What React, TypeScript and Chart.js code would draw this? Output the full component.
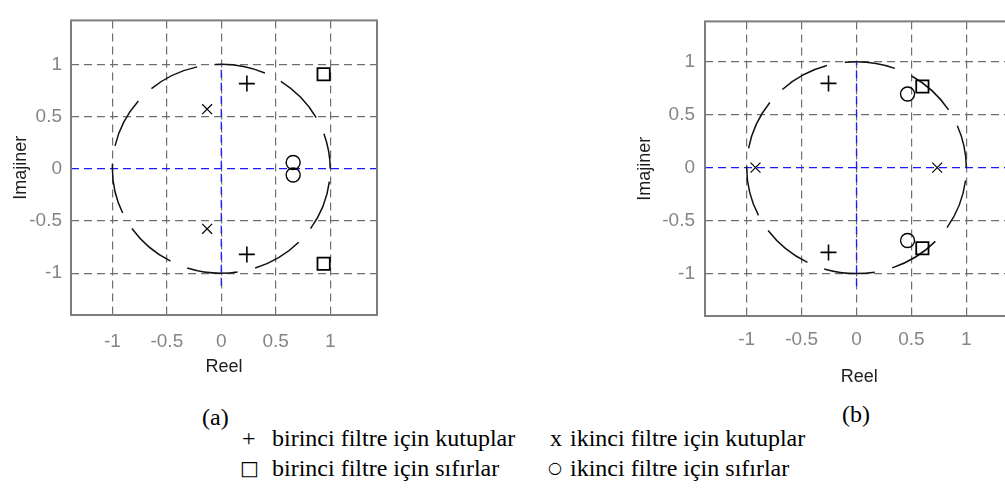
import React, { useEffect, useRef } from "react";
import { Chart, registerables } from "chart.js";
Chart.register(...registerables);

// ---- shared axis data ----
const TICKS = [-1, -0.5, 0, 0.5, 1];
const TICK_LABELS = ["-1", "-0.5", "0", "0.5", "1"];
const X_TITLE = "Reel";
const Y_TITLE = "Imajiner";
const UNIT_RADIUS = [1];
const IMAG_AXIS_SPAN = [-1.12, 1.0];

// ---- (a) ----
const A_POLE1_RE = [0.235, 0.235];
const A_POLE1_IM = [0.815, -0.82];
const A_POLE2_RE = [-0.13, -0.13];
const A_POLE2_IM = [0.57, -0.575];
const A_ZERO1_RE = [0.94, 0.94];
const A_ZERO1_IM = [0.905, -0.91];
const A_ZERO2_RE = [0.66, 0.66];
const A_ZERO2_IM = [0.06, -0.06];

// ---- (b) ----
const B_POLE1_RE = [-0.255, -0.255];
const B_POLE1_IM = [0.795, -0.8];
const B_POLE2_RE = [-0.92, 0.735];
const B_POLE2_IM = [0, 0];
const B_ZERO1_RE = [0.6, 0.6];
const B_ZERO1_IM = [0.765, -0.76];
const B_ZERO2_RE = [0.465, 0.465];
const B_ZERO2_IM = [0.695, -0.688];

const LEGEND_TEXT = [
  "birinci filtre için kutuplar",
  "ikinci filtre için kutuplar",
  "birinci filtre için sıfırlar",
  "ikinci filtre için sıfırlar",
];
const PANEL_LABELS = ["(a)", "(b)"];

const pts = (re: number[], im: number[]) => re.map((x, i) => ({ x, y: im[i] }));

const GRID_GRAY = "#6f6f6f";
const AXIS_BLUE = "#1a1aff";
const SANS = '"Liberation Sans", Arial, sans-serif';

const framePlugin = {
  id: "frameAndCircle",
  beforeDatasetsDraw(chart: any) {
    const { ctx, chartArea, scales } = chart;
    const xs = scales.x;
    const ys = scales.y;
    const cx = xs.getPixelForValue(0);
    const cy = ys.getPixelForValue(0);
    const rx = xs.getPixelForValue(UNIT_RADIUS[0]) - cx;
    const ry = cy - ys.getPixelForValue(UNIT_RADIUS[0]);
    ctx.save();
    ctx.strokeStyle = "#111";
    ctx.lineWidth = 1.5;
    ctx.setLineDash([51, 18]);
    ctx.lineDashOffset = 56;
    ctx.beginPath();
    ctx.ellipse(cx, cy, rx, ry, 0, 0, Math.PI * 2);
    ctx.stroke();
    ctx.setLineDash([]);
    ctx.strokeStyle = "#7d7d7d";
    ctx.lineWidth = 2;
    ctx.strokeRect(chartArea.left, chartArea.top, chartArea.right - chartArea.left, chartArea.bottom - chartArea.top);
    ctx.restore();
  },
};

type Cfg = {
  data: any;
  xMin: number; xMax: number; yMin: number; yMax: number;
  padTop: number; padRight: number; yAxisW: number; xAxisH: number;
  xTickPad: number; yTickPad: number; xTitlePad: number; yTitlePad: number;
};

function buildChart(canvas: HTMLCanvasElement, c: Cfg) {
  const mk = (label: string, re: number[], im: number[], style: string, r: number, w: number) => ({
    label,
    data: pts(re, im),
    pointStyle: style,
    pointRadius: r,
    pointHoverRadius: r,
    pointBorderWidth: w,
    pointBorderColor: "#000",
    pointBackgroundColor: "rgba(0,0,0,0)",
    showLine: false,
  });
  const d = c.data;
  const datasets: any[] = [
    {
      label: "imag-axis",
      data: [{ x: 0, y: IMAG_AXIS_SPAN[0] }, { x: 0, y: IMAG_AXIS_SPAN[1] }],
      showLine: true,
      borderColor: AXIS_BLUE,
      borderWidth: 1.3,
      borderDash: [8, 5],
      pointRadius: 0,
    },
    mk("p1", d.p1re, d.p1im, "cross", 8, 1.6),
    mk("p2", d.p2re, d.p2im, "crossRot", 7, 1.2),
    mk("z1", d.z1re, d.z1im, "rect", 8.7, 1.8),
    mk("z2", d.z2re, d.z2im, "circle", 7, 1.4),
  ];
  const setTicks = (s: any) => { s.ticks = TICKS.map((v) => ({ value: v })); };
  const lab = (v: any) => { const i = TICKS.indexOf(Number(v)); return i >= 0 ? TICK_LABELS[i] : ""; };
  return new Chart(canvas, {
    type: "scatter",
    data: { datasets },
    plugins: [framePlugin],
    options: {
      animation: false,
      responsive: false,
      devicePixelRatio: 1,
      events: [],
      layout: { padding: { top: c.padTop, right: c.padRight, left: 0, bottom: 0 } },
      plugins: { legend: { display: false }, tooltip: { enabled: false } },
      scales: {
        x: {
          type: "linear",
          min: c.xMin, max: c.xMax,
          afterBuildTicks: setTicks,
          afterFit: (s: any) => { s.height = c.xAxisH; },
          grid: { color: GRID_GRAY, lineWidth: 1.2, drawTicks: false },
          border: { display: false, dash: [8, 5] },
          ticks: { callback: lab, color: "#858585", padding: c.xTickPad, font: { family: SANS, size: 19 }, maxRotation: 0, autoSkip: false },
          title: { display: true, text: X_TITLE, color: "#1e1e1e", font: { family: SANS, size: 18 }, padding: { top: 0, bottom: c.xTitlePad } },
        },
        y: {
          type: "linear",
          min: c.yMin, max: c.yMax,
          afterBuildTicks: setTicks,
          afterFit: (s: any) => { s.width = c.yAxisW; },
          grid: { color: (ctx: any) => (ctx.tick && ctx.tick.value === 0 ? AXIS_BLUE : GRID_GRAY), lineWidth: 1.2, drawTicks: false },
          border: { display: false, dash: [8, 5] },
          ticks: { callback: lab, color: "#858585", padding: c.yTickPad, font: { family: SANS, size: 19 }, autoSkip: false },
          title: { display: true, text: Y_TITLE, color: "#1e1e1e", font: { family: SANS, size: 18 }, padding: { top: c.yTitlePad, bottom: 0 } },
        },
      },
    } as any,
  });
}

function Plot({ cfg, left }: { cfg: Cfg; left: number }) {
  const ref = useRef<HTMLCanvasElement>(null);
  useEffect(() => {
    const ch = buildChart(ref.current!, cfg);
    return () => ch.destroy();
  }, []);
  return (
    <canvas ref={ref} width={400} height={400}
      style={{ position: "absolute", left, top: 0, width: 400, height: 400 }} />
  );
}

const SERIF = '"Liberation Serif", "Times New Roman", serif';

function T({ left, base, children, font }: { left: number; base: number; children: any; font?: string }) {
  return (
    <div style={{ position: "absolute", left, top: base - 20, font: font || `24px ${SERIF}`, lineHeight: "24px", whiteSpace: "nowrap", color: "#000" }}>
      {children}
    </div>
  );
}

export default function App() {
  const cfgA: Cfg = {
    data: { p1re: A_POLE1_RE, p1im: A_POLE1_IM, p2re: A_POLE2_RE, p2im: A_POLE2_IM, z1re: A_ZERO1_RE, z1im: A_ZERO1_IM, z2re: A_ZERO2_RE, z2im: A_ZERO2_IM },
    xMin: -1.38, xMax: 1.43, yMin: -1.4, yMax: 1.42,
    padTop: 11, padRight: 23, yAxisW: 71, xAxisH: 85,
    xTickPad: 15, yTickPad: 9, xTitlePad: 22, yTitlePad: 10,
  };
  const cfgB: Cfg = {
    data: { p1re: B_POLE1_RE, p1im: B_POLE1_IM, p2re: B_POLE2_RE, p2im: B_POLE2_IM, z1re: B_ZERO1_RE, z1im: B_ZERO1_IM, z2re: B_ZERO2_RE, z2im: B_ZERO2_IM },
    xMin: -1.38, xMax: 1.43, yMin: -1.4, yMax: 1.38,
    padTop: 10, padRight: 9, yAxisW: 81, xAxisH: 84,
    xTickPad: 12, yTickPad: 10, xTitlePad: 12, yTitlePad: 10,
  };
  return (
    <div style={{ position: "absolute", left: 0, top: 0, width: 1005, height: 500, overflow: "hidden", background: "#fff" }}>
      <Plot cfg={cfgA} left={0} />
      <Plot cfg={cfgB} left={624} />
      <T left={202} base={425}>{PANEL_LABELS[0]}</T>
      <T left={842} base={422}>{PANEL_LABELS[1]}</T>
      <T left={242} base={446}>+</T>
      <T left={272} base={446}>{LEGEND_TEXT[0]}</T>
      <T left={550} base={446}>x</T>
      <T left={570} base={446}>{LEGEND_TEXT[1]}</T>
      <T left={240} base={476} font={`20px "DejaVu Sans", sans-serif`}>□</T>
      <T left={272} base={476}>{LEGEND_TEXT[2]}</T>
      <T left={548} base={476} font={`16px "DejaVu Sans", sans-serif`}>○</T>
      <T left={570} base={476}>{LEGEND_TEXT[3]}</T>
    </div>
  );
}
